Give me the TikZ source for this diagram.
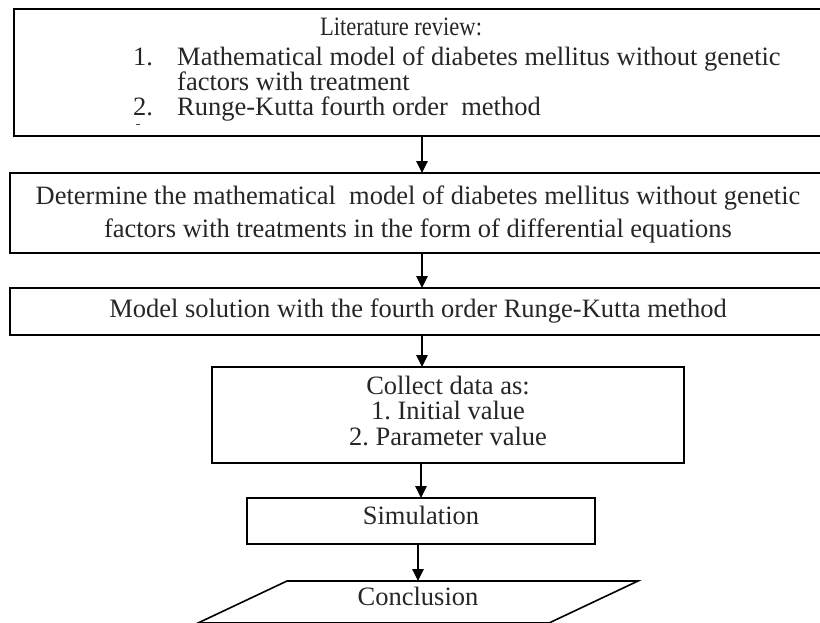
\documentclass[tikz,border=0pt]{standalone}
\usepackage{fontspec}
\setmainfont{Liberation Serif}
\usetikzlibrary{arrows.meta}
\frenchspacing
\begin{document}
\begin{tikzpicture}[x=1pt,y=-1pt,
  box/.style={draw=black, line width=1.6pt, rectangle, inner sep=0pt, outer sep=0pt},
  ghost/.style={rectangle, inner sep=0pt, outer sep=0pt},
  txt/.style={anchor=base, inner sep=0pt, font=\fontsize{26.5}{25.5}\selectfont\frenchspacing, text=black!85},
  ltxt/.style={txt, anchor=base west},
  arr/.style={line width=2.6pt, -{Triangle[width=11pt,length=12pt]}}]
\useasboundingbox (0,0) rectangle (820,622);
\clip (0,0) rectangle (820,622);
% boxes
\node[box, minimum width=816pt, minimum height=127pt] (b1) at (422,72.5) {};
\node[box, minimum width=824pt, minimum height=80pt] (b2) at (422,213) {};
\node[box, minimum width=824pt, minimum height=47pt] (b3) at (422,311.5) {};
\node[box, minimum width=472pt, minimum height=96pt] (b4) at (448,415) {};
\node[box, minimum width=348pt, minimum height=46pt] (b5) at (421,521) {};
\node[ghost, minimum width=440pt, minimum height=42pt] (b6) at (418,602) {};
\draw[line width=1.6pt] ([xshift=89pt]b6.north west) -- (b6.north east)
  -- ([xshift=-89pt]b6.south east) -- (b6.south west) -- cycle;
% texts
\node[txt] (t1) at (401,35) {\scalebox{0.85}[1]{Literature review:}};
\node[ltxt] (n1) at (133,65) {1.};
\node[ltxt] (t1a) at (177,65) {Mathematical model of diabetes mellitus without genetic};
\node[ltxt] (t1b) at (177,90) {factors with treatment};
\node[ltxt] (n2) at (133,115) {2.};
\node[ltxt] (t1c) at (177,115) {Runge-Kutta fourth order\ \ method};
\draw[line width=1pt, black!70] (135.5,124) -- (139.5,124);
\node[txt] (t2a) at (418,204) {Determine the mathematical\ \ model of diabetes mellitus without genetic};
\node[txt] (t2b) at (418,237) {factors with treatments in the form of differential equations};
\node[txt] (t3) at (418,317) {Model solution with the fourth order Runge-Kutta method};
\node[txt] (t4a) at (448,394) {Collect data as:};
\node[txt] (t4b) at (448,419) {1. Initial value};
\node[txt] (t4c) at (448,445) {2. Parameter value};
\node[txt] (t5) at (421,524) {Simulation};
\node[txt] (t6) at (418,605) {Conclusion};
% arrows
\draw[arr] (b1.south) -- (b2.north);
\draw[arr] (b2.south) -- (b3.north);
\draw[arr] (b3.south) -- (b3.south |- b4.north);
\draw[arr] (b5.north |- b4.south) -- (b5.north);
\draw[arr] (b5.south -| b6.north) -- (b6.north);
\end{tikzpicture}
\end{document}
